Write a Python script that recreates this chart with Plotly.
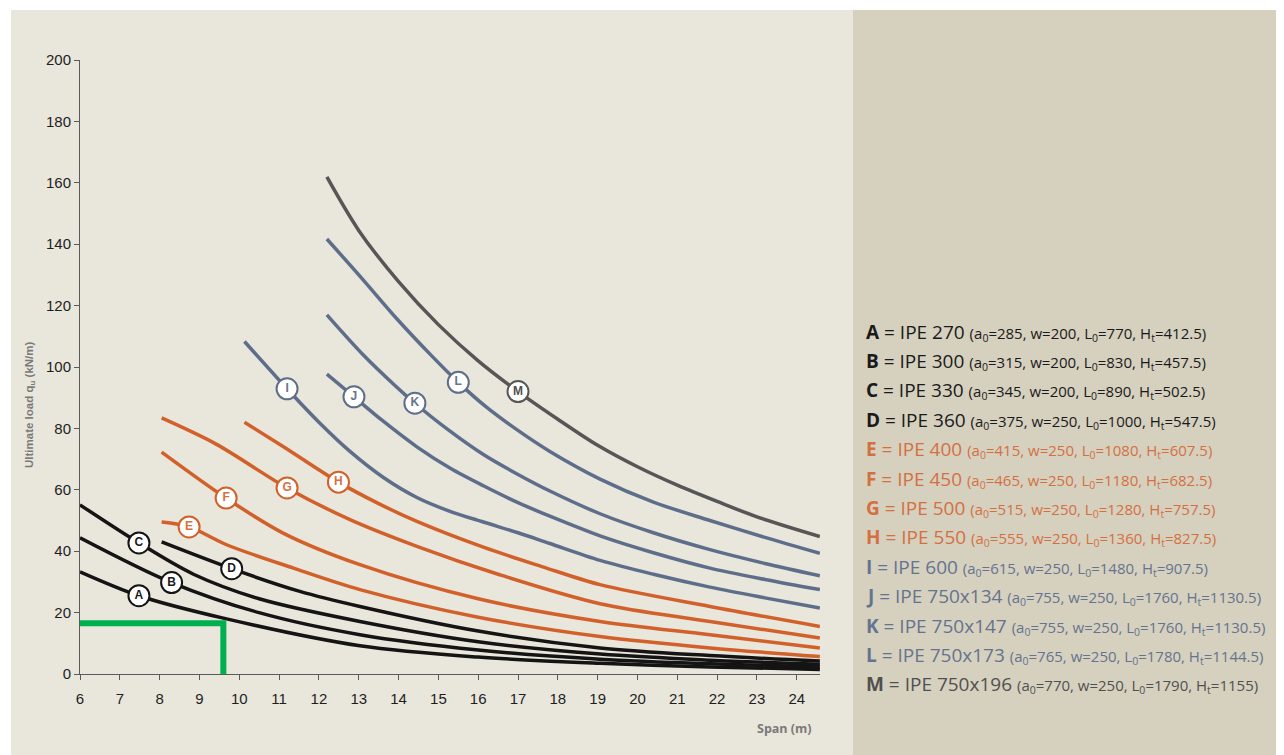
import numpy as np
import plotly.graph_objects as go

# ---------------- data ----------------
A_x = [6.0, 7.48, 9.6, 13.03, 16.0, 19.06, 21.82, 24.58]
A_y = [33.3, 25.5, 18.2, 9.2, 5.5, 3.5, 2.3, 1.5]
B_x = [6.0, 8.3, 10.52, 13.03, 16.0, 19.06, 21.82, 24.58]
B_y = [44.4, 29.8, 19.9, 12.8, 7.8, 4.8, 3.3, 2.3]
C_x = [6.0, 7.48, 8.85, 10.5, 13.03, 16.0, 19.06, 21.82, 24.58]
C_y = [55.1, 42.7, 32.5, 24.5, 17.1, 10.5, 6.5, 4.5, 3.2]
D_x = [8.05, 9.81, 11.5, 13.03, 16.0, 19.06, 21.82, 24.58]
D_y = [43.0, 34.3, 27.0, 22.0, 14.0, 8.5, 6.0, 4.2]
E_x = [8.05, 8.74, 9.68, 11.36, 13.03, 16.0, 19.06, 21.82, 24.58]
E_y = [49.5, 47.9, 42.1, 34.5, 27.5, 18.5, 12.2, 8.5, 5.7]
F_x = [8.05, 9.67, 11.1, 13.03, 16.0, 19.06, 21.82, 24.58]
F_y = [72.3, 57.3, 45.9, 35.6, 24.5, 17.1, 12.8, 8.5]
G_x = [8.05, 9.43, 11.2, 12.78, 14.46, 16.5, 19.06, 21.82, 24.58]
G_y = [83.4, 74.8, 60.6, 50.3, 41.6, 32.5, 22.9, 17.1, 11.7]
H_x = [10.13, 11.1, 12.49, 13.5, 14.46, 16.13, 17.6, 19.06, 21.82, 24.58]
H_y = [82.0, 74.1, 62.5, 55.5, 49.7, 41.3, 35.0, 29.1, 22.0, 15.5]
I_x = [10.13, 11.2, 12.0, 12.78, 13.62, 14.46, 15.29, 16.13, 17.0, 17.8, 19.06, 20.4, 21.82, 23.2, 24.58]
I_y = [108.3, 92.9, 82.0, 72.5, 64.0, 57.5, 53.0, 49.5, 46.0, 42.5, 37.0, 32.5, 28.3, 24.8, 21.5]
J_x = [12.2, 12.88, 13.6, 14.46, 15.3, 16.13, 17.0, 17.8, 19.06, 20.4, 21.82, 23.2, 24.58]
J_y = [97.7, 90.3, 82.5, 74.0, 67.0, 61.3, 55.8, 51.4, 45.0, 39.5, 34.5, 30.8, 27.5]
K_x = [12.2, 13.11, 13.95, 14.41, 15.2, 16.13, 17.0, 17.8, 19.06, 20.4, 21.82, 23.2, 24.58]
K_y = [117.0, 104.0, 93.5, 88.2, 80.0, 71.5, 65.0, 59.6, 52.2, 46.0, 40.5, 36.0, 32.0]
L_x = [12.2, 13.11, 13.95, 14.79, 15.5, 16.2, 16.97, 17.8, 19.06, 20.4, 21.82, 23.2, 24.58]
L_y = [141.7, 128.4, 115.8, 104.2, 95.0, 87.0, 79.6, 72.5, 63.5, 56.0, 50.0, 44.5, 39.3]
M_x = [12.2, 13.0, 14.0, 15.0, 16.0, 17.0, 18.0, 19.0, 20.0, 21.0, 22.0, 23.0, 24.58]
M_y = [161.9, 144.5, 127.8, 113.8, 102.0, 92.0, 83.0, 74.5, 67.5, 61.5, 56.2, 51.2, 44.8]

curve_names = ["A", "B", "C", "D", "E", "F", "G", "H", "I", "J", "K", "L", "M"]
curve_xs = [A_x, B_x, C_x, D_x, E_x, F_x, G_x, H_x, I_x, J_x, K_x, L_x, M_x]
curve_ys = [A_y, B_y, C_y, D_y, E_y, F_y, G_y, H_y, I_y, J_y, K_y, L_y, M_y]
# x position of the circled letter on each curve
label_x = [7.48, 8.3, 7.48, 9.81, 8.74, 9.67, 11.2, 12.49, 11.2, 12.88, 14.41, 15.5, 17.0]

sections = ["IPE 270", "IPE 300", "IPE 330", "IPE 360", "IPE 400", "IPE 450", "IPE 500",
            "IPE 550", "IPE 600", "IPE 750x134", "IPE 750x147", "IPE 750x173", "IPE 750x196"]
a0 = ["285", "315", "345", "375", "415", "465", "515", "555", "615", "755", "755", "765", "770"]
w = ["200", "200", "200", "250", "250", "250", "250", "250", "250", "250", "250", "250", "250"]
L0 = ["770", "830", "890", "1000", "1080", "1180", "1280", "1360", "1480", "1760", "1760", "1780", "1790"]
Ht = ["412.5", "457.5", "502.5", "547.5", "607.5", "682.5", "757.5", "827.5", "907.5",
      "1130.5", "1130.5", "1144.5", "1155"]

green_x = [6.0, 9.6, 9.6]
green_y = [16.5, 16.5, 0.0]

x_ticks = list(range(6, 25))
y_ticks = list(range(0, 201, 20))

# ---------------- styling ----------------
BLACK = "#141414"
ORANGE = "#D2602A"
BLUE = "#5E6E8A"
GREY = "#565656"
line_colors = [BLACK] * 4 + [ORANGE] * 4 + [BLUE] * 4 + [GREY]
text_colors = ["#1A1A1A"] * 4 + ["#D4703F"] * 4 + ["#65748E"] * 4 + ["#505050"]

W, H = 1284, 755
OFF = 8  # page body margin: screen px = figure px + 8
ML, MT = 80 - OFF, 60 - OFF
PW, PH = 740, 614
MR = W - ML - PW
MB = H - MT - PH


def px_x(p):
    """screen x pixel -> paper coordinate"""
    return (p - OFF - ML) / PW


def px_y(p):
    """screen y pixel -> paper coordinate"""
    return (MT + PH - (p - OFF)) / PH


fig = go.Figure()

for name, xs, ys, col in zip(curve_names, curve_xs, curve_ys, line_colors):
    fig.add_trace(go.Scatter(x=xs, y=ys, mode="lines", name=name,
                             line=dict(color=col, width=3.5, shape="spline", smoothing=0.9),
                             hoverinfo="skip", showlegend=False))

fig.add_trace(go.Scatter(x=green_x, y=green_y, mode="lines",
                         line=dict(color="#00B050", width=6),
                         hoverinfo="skip", showlegend=False, cliponaxis=False))

for name, xs, ys, lx, col, tcol in zip(curve_names, curve_xs, curve_ys, label_x,
                                        line_colors, text_colors):
    ly = float(np.interp(lx, xs, ys))
    fig.add_trace(go.Scatter(x=[lx], y=[ly], mode="markers+text", text=[f"<b>{name}</b>"],
                             textposition="middle center",
                             textfont=dict(family="Liberation Sans, Arial", size=12, color=tcol),
                             marker=dict(size=21, color="white", line=dict(color=col, width=2)),
                             hoverinfo="skip", showlegend=False, cliponaxis=False))

shapes = [
    dict(type="rect", xref="paper", yref="paper", x0=px_x(853), x1=px_x(W + 20),
         y0=px_y(H + 20), y1=px_y(10), fillcolor="#D6D0BF", line=dict(width=0), layer="below"),
    dict(type="rect", xref="paper", yref="paper", x0=px_x(0), x1=px_x(W + 20),
         y0=px_y(10), y1=px_y(0), fillcolor="white", line=dict(width=0), layer="below"),
    dict(type="rect", xref="paper", yref="paper", x0=px_x(0), x1=px_x(11),
         y0=px_y(H + 20), y1=px_y(0), fillcolor="white", line=dict(width=0), layer="below"),
]

annotations = []
for i, (name, sec, a, ww, l0, ht, tcol) in enumerate(zip(curve_names, sections, a0, w, L0, Ht, text_colors)):
    txt = (f"<b>{name}</b> = {sec} "
           f"<span style='font-size:15px'>(a<sub>0</sub>={a}, w={ww}, L<sub>0</sub>={l0}, "
           f"H<sub>t</sub>={ht})</span>")
    annotations.append(dict(xref="paper", yref="paper", x=px_x(864), y=px_y(331.5 + i * 29.4),
                            xanchor="left", yanchor="middle", showarrow=False, text=txt,
                            font=dict(family="Open Sans", size=19, color=tcol)))

annotations.append(dict(xref="paper", yref="paper", x=px_x(30), y=px_y(405), textangle=-90,
                        xanchor="center", yanchor="middle", showarrow=False,
                        text="<b>Ultimate load q<sub>u</sub> (kN/m)</b>",
                        font=dict(family="Liberation Sans, Arial", size=11.5, color="#7A7A7A")))
annotations.append(dict(xref="paper", yref="paper", x=px_x(814), y=px_y(728),
                        xanchor="right", yanchor="middle", showarrow=False,
                        text="<b>Span (m)</b>",
                        font=dict(family="Open Sans", size=12.5, color="#7A7A7A")))

axis_common = dict(showgrid=False, zeroline=False, showline=True, linecolor="#5A5A5A",
                   linewidth=1, ticks="outside", ticklen=5, tickwidth=1, tickcolor="#5A5A5A",
                   tickfont=dict(family="Liberation Sans, Arial", size=15, color="#1E1E1E"))

fig.update_layout(
    width=W, height=H,
    margin=dict(l=ML, r=MR, t=MT, b=MB, pad=0),
    paper_bgcolor="#E9E6DB",
    plot_bgcolor="rgba(0,0,0,0)",
    xaxis=dict(range=[6, 6 + PW / 39.82], tickmode="array", tickvals=x_ticks,
               ticklabelstandoff=6, **axis_common),
    yaxis=dict(range=[0, 200], tickmode="array", tickvals=y_ticks, **axis_common),
    shapes=shapes,
    annotations=annotations,
    showlegend=False,
)

fig.write_html("out.html")
